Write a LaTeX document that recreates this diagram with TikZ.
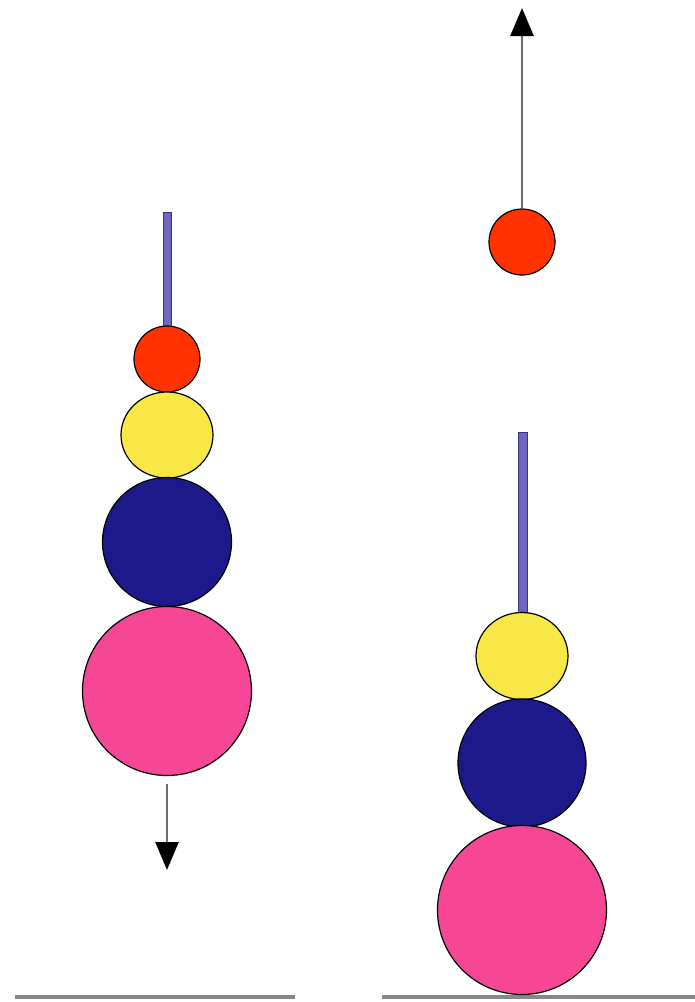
\documentclass[tikz,border=0pt]{standalone}
\usetikzlibrary{arrows.meta,shapes.geometric}
\definecolor{rodc}{RGB}{112,102,192}
\definecolor{rodedge}{RGB}{60,52,120}
\definecolor{redc}{RGB}{255,50,0}
\definecolor{yelc}{RGB}{247,232,72}
\definecolor{navyc}{RGB}{28,26,138}
\definecolor{pinkc}{RGB}{246,70,150}
\definecolor{arrowc}{RGB}{112,106,116}
\definecolor{groundc}{RGB}{135,135,135}
\begin{document}
\begin{tikzpicture}[x=1pt,y=-1pt,
  ball/.style={circle,draw=black,line width=1.2pt,inner sep=0pt,minimum size=#1},
  eball/.style={ellipse,draw=black,line width=1.2pt,inner sep=0pt},
  rod/.style={fill=rodc,draw=rodedge,line width=1pt},
  motion/.style={draw=arrowc,line width=2.6pt,-{Triangle[black,width=23pt,length=28pt]}},
  ground/.style={draw=groundc,line width=4pt}]
\useasboundingbox (0,0) rectangle (695,1002);
% ground
\draw[ground] (15,997) -- (295,997);
\draw[ground] (382,997) -- (695,997);
% left stack
\draw[rod] (163,212) rectangle (171,330);
\node[ball=66pt,fill=redc] (lr) at (167,359) {};
\node[eball,fill=yelc,minimum width=92pt,minimum height=86pt] (ly) at (167,435) {};
\node[ball=129pt,fill=navyc] (ln) at (167,542) {};
\node[ball=169pt,fill=pinkc] (lp) at (167,691) {};
\coordinate (ldown) at (167,870);
\draw[motion] ([yshift=-8pt]lp.south) -- (ldown);
% right stack
\node[ball=66pt,fill=redc] (rr) at (522,242) {};
\coordinate (rup) at (522,8);
\draw[motion] (rr.north) -- (rup);
\draw[rod] (518,432) rectangle (527,616);
\node[eball,fill=yelc,minimum width=92pt,minimum height=87pt] (ry) at (522,656) {};
\node[ball=128pt,fill=navyc] (rn) at (522,763) {};
\node[ball=169pt,fill=pinkc] (rp) at (522,910) {};
\end{tikzpicture}
\end{document}
